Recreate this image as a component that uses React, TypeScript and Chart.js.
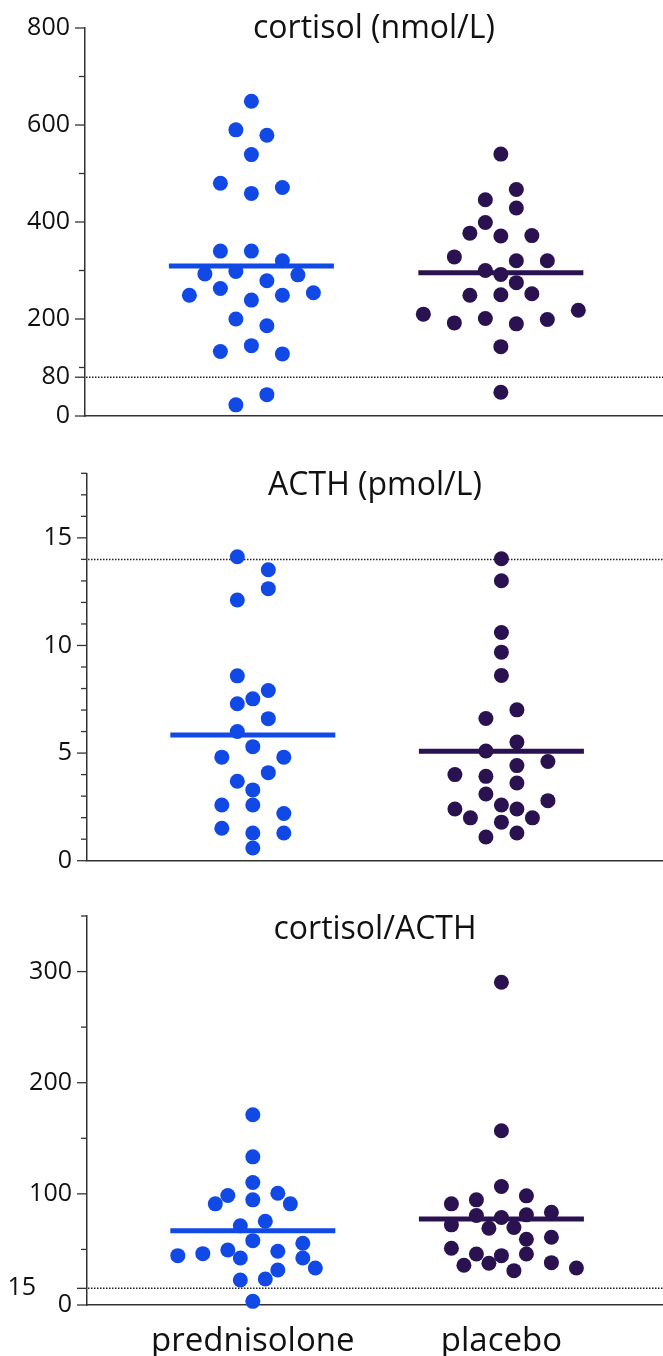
import React, { useEffect, useRef } from "react";
import { Chart, registerables } from "chart.js";

Chart.register(...registerables);

// ---------------- data ----------------
const groupLabels = ["prednisolone", "placebo"];
const groupColors = ["#1049E6", "#2A1150"];

const cortisolTitle = "cortisol (nmol/L)";
const cortisolPrednisolone = [649, 590, 579, 539, 480, 459, 471, 340, 340, 320, 293, 298, 279, 291, 249, 263, 239, 249, 254, 200, 186, 133, 145, 128, 23, 44];
const cortisolPlacebo = [540, 446, 467, 399, 429, 377, 371, 372, 328, 300, 320, 320, 292, 275, 249, 250, 252, 210, 192, 201, 190, 199, 218, 143, 49];
const cortisolTicks = [0, 80, 100, 200, 300, 400, 500, 600, 700, 800];
const cortisolTickLabels = [0, 80, 200, 400, 600, 800];
const cortisolSideLabels: number[] = [];
const cortisolReference = 80;
const cortisolMax = 800;

const acthTitle = "ACTH (pmol/L)";
const acthPrednisolone = [14.12, 13.52, 12.11, 12.64, 8.59, 7.91, 7.29, 7.52, 6.0, 6.6, 4.81, 5.3, 4.81, 3.69, 4.09, 3.29, 2.59, 2.59, 2.19, 1.51, 1.29, 1.29, 0.59];
const acthPlacebo = [14.03, 13.01, 10.6, 9.69, 8.61, 6.61, 7.01, 5.1, 5.51, 4.0, 3.92, 4.42, 4.61, 3.1, 3.61, 2.4, 2.59, 2.4, 2.79, 1.99, 1.79, 1.99, 1.1, 1.29];
const acthTicks = [0, 1, 2, 3, 4, 5, 6, 7, 8, 9, 10, 11, 12, 13, 14, 15, 16, 17, 18];
const acthTickLabels = [0, 5, 10, 15];
const acthSideLabels: number[] = [];
const acthReference = 14;
const acthMax = 18;

const ratioTitle = "cortisol/ACTH";
const ratioPrednisolone = [171.2, 133.3, 98.5, 110.2, 100.6, 94.6, 91, 91, 71.2, 75.4, 46.2, 49.5, 57.9, 48.3, 55.6, 44.4, 42.3, 42.3, 31.5, 33.3, 22.5, 23.4, 3.3];
const ratioPlacebo = [290.4, 156.8, 94.6, 106.6, 98.2, 91, 80.5, 78.7, 81.1, 83.5, 72.1, 69.1, 69.7, 59.2, 61, 51.1, 45.9, 44.4, 45.9, 38.1, 35.8, 37.6, 30.9, 33.3];
const ratioTicks = [0, 15, 50, 100, 150, 200, 250, 300, 350];
const ratioTickLabels = [0, 100, 200, 300];
const ratioSideLabels = [15];
const ratioReference = 15;
const ratioMax = 350;

// ---------------- layout helpers ----------------
const FONT = "'Open Sans', 'DejaVu Sans', sans-serif";
const DOT_R = 7.5;
const MEAN_HALF_PX = 82.5;

function mean(a: number[]) {
  return a.reduce((s, v) => s + v, 0) / a.length;
}

// Column-scatter (beeswarm) slot assignment computed from the values and the y scale.
function layoutSwarm(values: number[], toPx: (v: number) => number, unitPx: number, diam: number): number[] {
  const idx = values.map((_, i) => i).sort((a, b) => values[b] - values[a] || a - b);
  const groups: number[][] = [];
  let cur: number[] = [];
  let top = -Infinity;
  for (const i of idx) {
    const py = toPx(values[i]);
    if (cur.length && py - top < diam) cur.push(i);
    else {
      if (cur.length) groups.push(cur);
      cur = [i];
      top = py;
    }
  }
  if (cur.length) groups.push(cur);
  const placed: { x: number; y: number }[] = [];
  const slots = new Array(values.length).fill(0);
  for (const g of groups) {
    const members = g.slice().sort((a, b) => a - b);
    members.forEach((i, k) => {
      const target = 2 * k - (members.length - 1);
      const py = toPx(values[i]);
      const cands: number[] = [target];
      for (let d = 1; d <= 14; d++) {
        const a = target - d;
        const b = target + d;
        if (Math.abs(a) <= Math.abs(b)) cands.push(a, b);
        else cands.push(b, a);
      }
      let chosen = target;
      for (const c of cands) {
        const px = c * unitPx;
        if (placed.every((p) => Math.hypot(p.x - px, p.y - py) >= diam - 0.6)) {
          chosen = c;
          break;
        }
      }
      slots[i] = chosen;
      placed.push({ x: chosen * unitPx, y: py });
    });
  }
  return slots;
}

type PanelSpec = {
  title: string;
  pred: number[];
  plac: number[];
  ticks: number[];
  labels: number[];
  sideLabels: number[];
  reference: number;
  max: number;
  top: number;
  height: number;
  padTop: number;
  padBottom: number;
  axisWidth: number;
  xHeight: number;
  showCategories: boolean;
  unitPx: number;
  titleY: number;
};

function Panel(p: PanelSpec) {
  const ref = useRef<HTMLCanvasElement>(null);
  useEffect(() => {
    const canvas = ref.current;
    if (!canvas) return;
    const series = [p.pred, p.plac];

    const decor = {
      id: "decor",
      beforeDatasetsDraw(chart: any) {
        const { ctx, chartArea, scales } = chart;
        const yy = scales.y.getPixelForValue(p.reference);
        ctx.save();
        ctx.strokeStyle = "#222";
        ctx.lineWidth = 1.5;
        ctx.setLineDash([1.5, 1.5]);
        ctx.beginPath();
        ctx.moveTo(chartArea.left + 1, yy);
        ctx.lineTo(chartArea.right, yy);
        ctx.stroke();
        ctx.restore();
      },
      afterDraw(chart: any) {
        const { ctx, chartArea, scales } = chart;
        ctx.save();
        ctx.strokeStyle = "#333";
        ctx.lineWidth = 1.3;
        for (const t of p.ticks) {
          const major = p.labels.includes(t) || p.sideLabels.includes(t);
          const len = major ? 10 : 6;
          const py = scales.y.getPixelForValue(t);
          ctx.beginPath();
          ctx.moveTo(chartArea.left - len, py);
          ctx.lineTo(chartArea.left, py);
          ctx.stroke();
        }
        ctx.fillStyle = "#111";
        ctx.font = `25px ${FONT}`;
        ctx.textAlign = "right";
        ctx.textBaseline = "middle";
        for (const s of p.sideLabels) {
          ctx.fillText(String(s), chartArea.left - 51, scales.y.getPixelForValue(s));
        }
        ctx.font = `32px ${FONT}`;
        ctx.textAlign = "center";
        ctx.textBaseline = "alphabetic";
        ctx.fillText(p.title, (chartArea.left + chartArea.right) / 2, p.titleY);
        ctx.restore();
      },
    };

    const chart = new Chart(canvas, {
      type: "scatter",
      data: {
        datasets: [
          ...series.map((vals, g) => ({
            type: "scatter" as const,
            label: groupLabels[g],
            data: vals.map((v) => ({ x: g + 1, y: v })),
            backgroundColor: groupColors[g],
            borderWidth: 0,
            pointRadius: DOT_R,
            pointHoverRadius: DOT_R,
            clip: false as any,
            order: 2,
          })),
          ...series.map((vals, g) => ({
            type: "line" as const,
            label: groupLabels[g] + " mean",
            data: [
              { x: g + 1, y: mean(vals) },
              { x: g + 1, y: mean(vals) },
            ],
            borderColor: groupColors[g],
            borderWidth: 5,
            borderCapStyle: "butt" as const,
            pointRadius: 0,
            showLine: true,
            fill: false,
            order: 1,
          })),
        ],
      },
      options: {
        animation: false,
        responsive: false,
        events: [],
        layout: { autoPadding: false, padding: { top: p.padTop, bottom: p.padBottom, left: 0, right: 0 } },
        plugins: { legend: { display: false }, tooltip: { enabled: false }, title: { display: false } },
        scales: {
          x: {
            type: "linear",
            min: 0.333,
            max: 2.65,
            grid: { display: false, drawTicks: false },
            border: { display: true, color: "#333", width: 1.5 },
            afterBuildTicks: (scale: any) => {
              scale.ticks = groupLabels.map((_, i) => ({ value: i + 1 }));
            },
            afterFit: (scale: any) => {
              scale.height = p.xHeight;
            },
            ticks: {
              display: p.showCategories,
              autoSkip: false,
              maxRotation: 0,
              padding: 17,
              color: "#111",
              font: { family: FONT, size: 33 },
              callback: (v: any) => groupLabels[Number(v) - 1] ?? "",
            },
          },
          y: {
            type: "linear",
            min: 0,
            max: p.max,
            grid: { display: false, drawTicks: true, tickLength: 15 },
            border: { display: true, color: "#333", width: 1.5 },
            afterBuildTicks: (scale: any) => {
              scale.ticks = p.ticks.map((v) => ({ value: v }));
            },
            afterFit: (scale: any) => {
              scale.width = p.axisWidth;
            },
            ticks: {
              autoSkip: false,
              padding: 0,
              color: "#111",
              font: { family: FONT, size: 25 },
              callback: (v: any) => (p.labels.includes(Number(v)) ? String(v) : ""),
            },
          },
        },
      } as any,
      plugins: [decor],
    });

    const xs = chart.scales.x;
    const ys = chart.scales.y;
    series.forEach((vals, g) => {
      const slots = layoutSwarm(vals, (v) => ys.getPixelForValue(v), p.unitPx, DOT_R * 2);
      const cx = xs.getPixelForValue(g + 1);
      (chart.data.datasets[g] as any).data = vals.map((v, i) => ({
        x: xs.getValueForPixel(cx + slots[i] * p.unitPx),
        y: v,
      }));
      const m = mean(vals);
      (chart.data.datasets[2 + g] as any).data = [
        { x: xs.getValueForPixel(cx - MEAN_HALF_PX), y: m },
        { x: xs.getValueForPixel(cx + MEAN_HALF_PX), y: m },
      ];
    });
    chart.update("none");

    return () => chart.destroy();
  }, []);
  return (
    <canvas
      ref={ref}
      width={663}
      height={p.height}
      style={{ position: "absolute", left: 0, top: p.top, width: 663, height: p.height, display: "block" }}
    />
  );
}

export default function App() {
  return (
    <div style={{ position: "absolute", left: 0, top: 0, width: 663, height: 1356, background: "#fff", overflow: "hidden" }}>
      <Panel
        title={cortisolTitle}
        pred={cortisolPrednisolone}
        plac={cortisolPlacebo}
        ticks={cortisolTicks}
        labels={cortisolTickLabels}
        sideLabels={cortisolSideLabels}
        reference={cortisolReference}
        max={cortisolMax}
        top={0}
        height={440}
        padTop={28}
        padBottom={24}
        axisWidth={85}
        xHeight={0}
        showCategories={false}
        unitPx={15.5}
        titleY={38}
      />
      <Panel
        title={acthTitle}
        pred={acthPrednisolone}
        plac={acthPlacebo}
        ticks={acthTicks}
        labels={acthTickLabels}
        sideLabels={acthSideLabels}
        reference={acthReference}
        max={acthMax}
        top={440}
        height={440}
        padTop={33.3}
        padBottom={19.3}
        axisWidth={87}
        xHeight={0}
        showCategories={false}
        unitPx={15.5}
        titleY={55}
      />
      <Panel
        title={ratioTitle}
        pred={ratioPrednisolone}
        plac={ratioPlacebo}
        ticks={ratioTicks}
        labels={ratioTickLabels}
        sideLabels={ratioSideLabels}
        reference={ratioReference}
        max={ratioMax}
        top={880}
        height={476}
        padTop={36}
        padBottom={0}
        axisWidth={87}
        xHeight={51}
        showCategories={true}
        unitPx={12.5}
        titleY={59}
      />
    </div>
  );
}
